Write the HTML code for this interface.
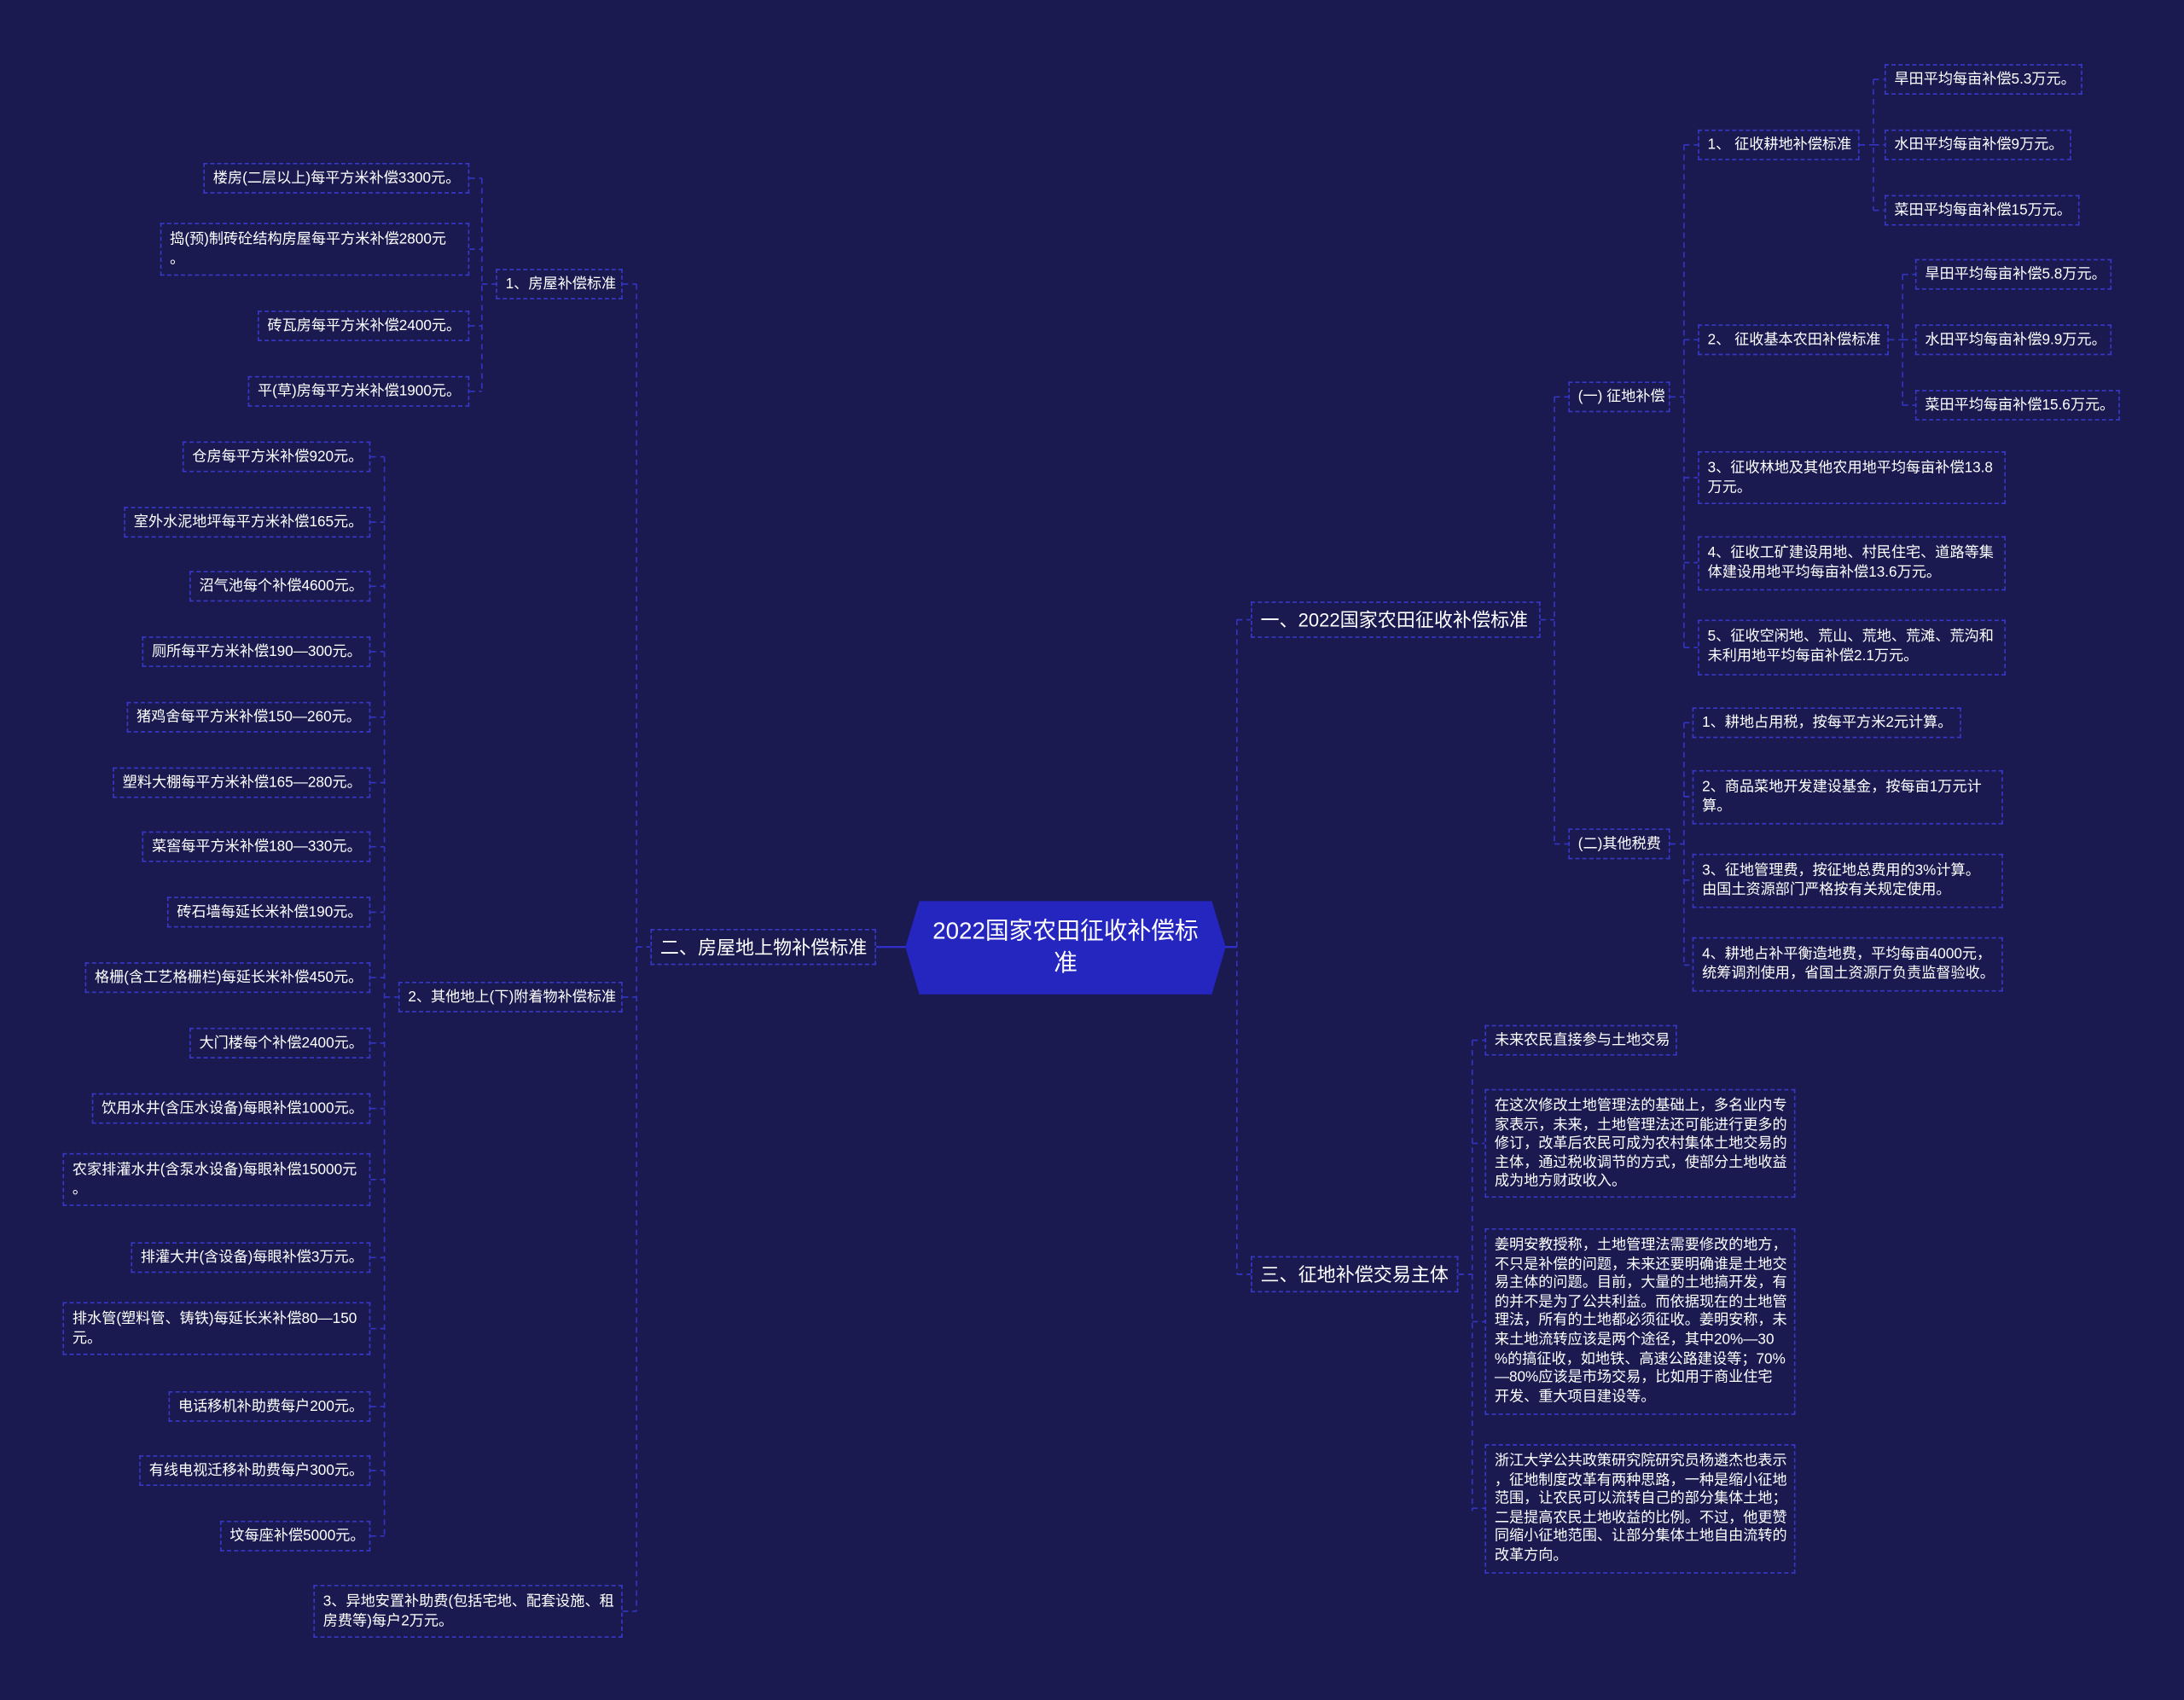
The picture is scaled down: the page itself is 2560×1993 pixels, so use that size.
<!DOCTYPE html>
<html><head><meta charset="utf-8"><style>
html,body{margin:0;padding:0;background:#1a1a50;overflow:hidden}
#w{width:2560px;height:1993px;position:relative;background:#1a1a50}
#c{position:absolute;left:0;top:0;width:1568px;height:1221px;transform:scale(1.63265);transform-origin:0 0;font-family:"Liberation Sans","Noto Sans CJK SC",sans-serif;color:#fff}
.b{position:absolute;border:1px dashed #3838c8;box-sizing:border-box;font-size:10.5px;line-height:13.6px;padding:5px 6px 3px;white-space:nowrap}
.s{height:22px;padding:4px 6px 2px}
.r{text-align:right}
.l1{font-size:13.5px;line-height:18px;padding:4px 6px 2px;height:26px}
svg{position:absolute;left:0;top:0}
</style></head><body><div id="w"><div id="c">
<svg width="1568" height="1221" fill="none" stroke="#3434c4" stroke-width="1" stroke-dasharray="4,3">
<path d="M346 128V281M337 128H346M337 179H346M337 234H346M337 281H346M346 204H356M447 204H457"/>
<path d="M276 328V1103M266 328H276M266 375H276M266 421H276M266 468H276M266 515H276M266 562H276M266 608H276M266 655H276M266 702H276M266 749H276M266 796H276M266 847H276M266 903H276M266 954H276M266 1010H276M266 1056H276M266 1103H276M276 716H286M447 716H457M447 1157H457"/>
<path d="M457 204V1157M457 680H467"/>
<path d="M888 445V915M888 445H898M888 915H898M1106 445H1116M1116 285V606M1116 285H1126M1116 606H1126"/>
<path d="M1199 285H1209M1209 104V465M1209 104H1219M1209 244H1219M1209 343H1219M1209 404H1219M1209 465H1219"/>
<path d="M1335 104H1345M1345 57V151M1345 57H1353M1345 104H1353M1345 151H1353"/>
<path d="M1356 244H1366M1366 197V291M1366 197H1375M1366 244H1375M1366 291H1375"/>
<path d="M1199 606H1209M1209 519V693M1209 519H1215M1209 572H1215M1209 632H1215M1209 693H1215"/>
<path d="M1047 915H1057M1057 747V1085M1057 747H1066M1057 821H1066M1057 949H1066M1057 1083H1066"/>
<path stroke-dasharray="none" stroke="#3030c8" stroke-width="1.5" d="M629 680H652M878 680H888"/>
</svg>
<svg width="1568" height="1221"><polygon points="660,647 870,647 880,680 870,714 660,714 650,680" fill="#2525c0"/></svg>
<div style="position:absolute;left:660px;top:657px;width:210px;text-align:center;font-size:17px;line-height:23px;white-space:normal">2022国家农田征收补偿标<br>准</div>

<div class="b s r" style="left:146px;top:117px;width:191px">楼房(二层以上)每平方米补偿3300元。</div>
<div class="b" style="left:115px;top:160px;width:222px;height:38px">捣(预)制砖砼结构房屋每平方米补偿2800元<br>。</div>
<div class="b s r" style="left:185px;top:223px;width:152px">砖瓦房每平方米补偿2400元。</div>
<div class="b s r" style="left:178px;top:270px;width:159px">平(草)房每平方米补偿1900元。</div>
<div class="b s" style="left:356px;top:193px;width:91px">1、房屋补偿标准</div>

<div class="b s r" style="left:131px;top:317px;width:135px">仓房每平方米补偿920元。</div>
<div class="b s r" style="left:89px;top:364px;width:177px">室外水泥地坪每平方米补偿165元。</div>
<div class="b s r" style="left:136px;top:410px;width:130px">沼气池每个补偿4600元。</div>
<div class="b s r" style="left:102px;top:457px;width:164px">厕所每平方米补偿190—300元。</div>
<div class="b s r" style="left:91px;top:504px;width:175px">猪鸡舍每平方米补偿150—260元。</div>
<div class="b s r" style="left:81px;top:551px;width:185px">塑料大棚每平方米补偿165—280元。</div>
<div class="b s r" style="left:102px;top:597px;width:164px">菜窖每平方米补偿180—330元。</div>
<div class="b s r" style="left:120px;top:644px;width:146px">砖石墙每延长米补偿190元。</div>
<div class="b s r" style="left:61px;top:691px;width:205px">格栅(含工艺格栅栏)每延长米补偿450元。</div>
<div class="b s r" style="left:136px;top:738px;width:130px">大门楼每个补偿2400元。</div>
<div class="b s r" style="left:66px;top:785px;width:200px">饮用水井(含压水设备)每眼补偿1000元。</div>
<div class="b" style="left:45px;top:828px;width:221px;height:38px">农家排灌水井(含泵水设备)每眼补偿15000元<br>。</div>
<div class="b s r" style="left:94px;top:892px;width:172px">排灌大井(含设备)每眼补偿3万元。</div>
<div class="b" style="left:45px;top:935px;width:221px;height:38px">排水管(塑料管、铸铁)每延长米补偿80—150<br>元。</div>
<div class="b s r" style="left:121px;top:999px;width:145px">电话移机补助费每户200元。</div>
<div class="b s r" style="left:100px;top:1045px;width:166px">有线电视迁移补助费每户300元。</div>
<div class="b s r" style="left:158px;top:1092px;width:108px">坟每座补偿5000元。</div>
<div class="b s" style="left:286px;top:705px;width:161px">2、其他地上(下)附着物补偿标准</div>
<div class="b" style="left:225px;top:1138px;width:222px;height:38px">3、异地安置补助费(包括宅地、配套设施、租<br>房费等)每户2万元。</div>
<div class="b l1" style="left:467px;top:667px;width:162px">二、房屋地上物补偿标准</div>

<div class="b l1" style="left:898px;top:432px;width:208px">一、2022国家农田征收补偿标准</div>
<div class="b l1" style="left:898px;top:902px;width:149px">三、征地补偿交易主体</div>
<div class="b s" style="left:1126px;top:274px;width:73px">(一) 征地补偿</div>
<div class="b s" style="left:1126px;top:595px;width:73px">(二)其他税费</div>
<div class="b s" style="left:1219px;top:93px;width:116px">1、 征收耕地补偿标准</div>
<div class="b s" style="left:1353px;top:46px;width:142px">旱田平均每亩补偿5.3万元。</div>
<div class="b s" style="left:1353px;top:93px;width:134px">水田平均每亩补偿9万元。</div>
<div class="b s" style="left:1353px;top:140px;width:140px">菜田平均每亩补偿15万元。</div>
<div class="b s" style="left:1219px;top:233px;width:137px">2、 征收基本农田补偿标准</div>
<div class="b s" style="left:1375px;top:186px;width:141px">旱田平均每亩补偿5.8万元。</div>
<div class="b s" style="left:1375px;top:233px;width:141px">水田平均每亩补偿9.9万元。</div>
<div class="b s" style="left:1375px;top:280px;width:147px">菜田平均每亩补偿15.6万元。</div>
<div class="b" style="left:1219px;top:324px;width:221px;height:38px">3、征收林地及其他农用地平均每亩补偿13.8<br>万元。</div>
<div class="b" style="left:1219px;top:385px;width:221px;height:39px">4、征收工矿建设用地、村民住宅、道路等集<br>体建设用地平均每亩补偿13.6万元。</div>
<div class="b" style="left:1219px;top:445px;width:221px;height:40px">5、征收空闲地、荒山、荒地、荒滩、荒沟和<br>未利用地平均每亩补偿2.1万元。</div>
<div class="b s" style="left:1215px;top:508px;width:193px">1、耕地占用税，按每平方米2元计算。</div>
<div class="b" style="left:1215px;top:553px;width:223px;height:39px">2、商品菜地开发建设基金，按每亩1万元计<br>算。</div>
<div class="b" style="left:1215px;top:613px;width:223px;height:39px">3、征地管理费，按征地总费用的3%计算。<br>由国土资源部门严格按有关规定使用。</div>
<div class="b" style="left:1215px;top:673px;width:223px;height:39px">4、耕地占补平衡造地费，平均每亩4000元，<br>统筹调剂使用，省国土资源厅负责监督验收。</div>
<div class="b s" style="left:1066px;top:736px;width:138px">未来农民直接参与土地交易</div>
<div class="b" style="left:1066px;top:782px;width:223px;height:78px">在这次修改土地管理法的基础上，多名业内专<br>家表示，未来，土地管理法还可能进行更多的<br>修订，改革后农民可成为农村集体土地交易的<br>主体，通过税收调节的方式，使部分土地收益<br>成为地方财政收入。</div>
<div class="b" style="left:1066px;top:882px;width:223px;height:134px">姜明安教授称，土地管理法需要修改的地方，<br>不只是补偿的问题，未来还要明确谁是土地交<br>易主体的问题。目前，大量的土地搞开发，有<br>的并不是为了公共利益。而依据现在的土地管<br>理法，所有的土地都必须征收。姜明安称，未<br>来土地流转应该是两个途径，其中20%—30<br>%的搞征收，如地铁、高速公路建设等；70%<br>—80%应该是市场交易，比如用于商业住宅<br>开发、重大项目建设等。</div>
<div class="b" style="left:1066px;top:1037px;width:223px;height:93px">浙江大学公共政策研究院研究员杨遴杰也表示<br>，征地制度改革有两种思路，一种是缩小征地<br>范围，让农民可以流转自己的部分集体土地；<br>二是提高农民土地收益的比例。不过，他更赞<br>同缩小征地范围、让部分集体土地自由流转的<br>改革方向。</div>
</div></div></body></html>
